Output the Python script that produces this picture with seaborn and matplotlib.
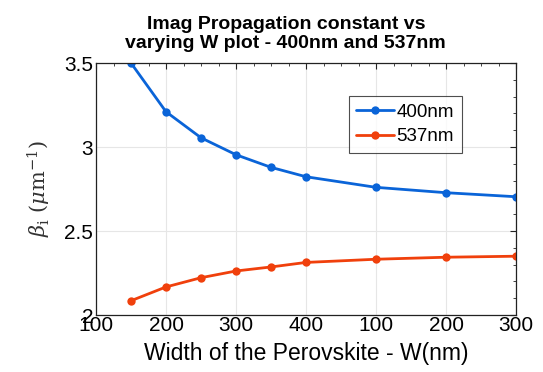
import matplotlib
matplotlib.use("Agg")
import matplotlib.pyplot as plt
import seaborn as sns
import pandas as pd
from matplotlib.ticker import MultipleLocator

# Data (x positions on the axis)
w_pos = [150, 200, 250, 300, 350, 400, 500, 600, 700]
beta_400 = [3.50, 3.21, 3.055, 2.954, 2.879, 2.823, 2.76, 2.728, 2.704]
beta_537 = [2.085, 2.167, 2.222, 2.262, 2.286, 2.313, 2.332, 2.344, 2.35]
series_names = ["400nm", "537nm"]
x_tick_pos = [100, 200, 300, 400, 500, 600, 700]
x_tick_labels = ["100", "200", "300", "400", "100", "200", "300"]
y_ticks = [2, 2.5, 3, 3.5]
y_tick_labels = ["2", "2.5", "3", "3.5"]

df = pd.DataFrame({
    "W": w_pos + w_pos,
    "beta": beta_400 + beta_537,
    "series": [series_names[0]] * len(w_pos) + [series_names[1]] * len(w_pos),
})

sns.set_style("white")
plt.rcParams["font.family"] = ["Liberation Sans", "DejaVu Sans"]
plt.rcParams["mathtext.fontset"] = "dejavuserif"
plt.rcParams["text.color"] = "black"
plt.rcParams["axes.labelcolor"] = "black"
plt.rcParams["xtick.color"] = "black"
plt.rcParams["ytick.color"] = "black"

fig = plt.figure(figsize=(5.43, 3.72), dpi=100)
ax = fig.add_axes([0.1768, 0.1532, 0.7735, 0.6774])

palette = {"400nm": "#0a64d8", "537nm": "#f0400c"}
sns.lineplot(data=df, x="W", y="beta", hue="series", palette=palette,
             marker="o", markersize=6, linewidth=2, markeredgewidth=0,
             ax=ax, legend=True)

ax.set_xlim(100, 700)
ax.set_ylim(2, 3.5)
ax.set_xticks(x_tick_pos)
ax.set_xticklabels(x_tick_labels)
ax.set_yticks(y_ticks)
ax.set_yticklabels(y_tick_labels)
ax.xaxis.set_minor_locator(MultipleLocator(25))
ax.yaxis.set_minor_locator(MultipleLocator(0.1))
ax.tick_params(axis="both", which="both", direction="in", top=True, right=True,
               labelsize=15, color="#222222", labelcolor="black")
ax.tick_params(which="major", length=4, width=0.8)
ax.tick_params(which="minor", length=2.5, width=0.6)
ax.tick_params(axis="x", pad=1)
ax.tick_params(axis="y", pad=2)
ax.grid(True, which="major", color="#e6e6e6", linewidth=0.8)
for s in ax.spines.values():
    s.set_color("#222222")
    s.set_linewidth(0.9)

ax.set_xlabel("Width of the Perovskite - W(nm)", fontsize=16.5, labelpad=5,
              color="black")
ax.set_ylabel(r"$\beta_{\rm i}\ (\mu{\rm m}^{-1})$", fontsize=15, labelpad=8,
              color="#333333")
ax.set_title("Imag Propagation constant vs\nvarying W plot - 400nm and 537nm",
             fontsize=14, fontweight="bold", pad=11, linespacing=1.12,
             x=0.452, color="black")

leg = ax.legend(loc="upper left", bbox_to_anchor=(0.602, 0.869), fontsize=13.5,
                frameon=True, fancybox=False, edgecolor="#222222",
                handlelength=2.0, handletextpad=0.15, borderpad=0.4,
                labelspacing=0.4, borderaxespad=0)
leg.get_frame().set_linewidth(0.8)
for t in leg.get_texts():
    t.set_color("black")

fig.savefig("out.png", dpi=100)
